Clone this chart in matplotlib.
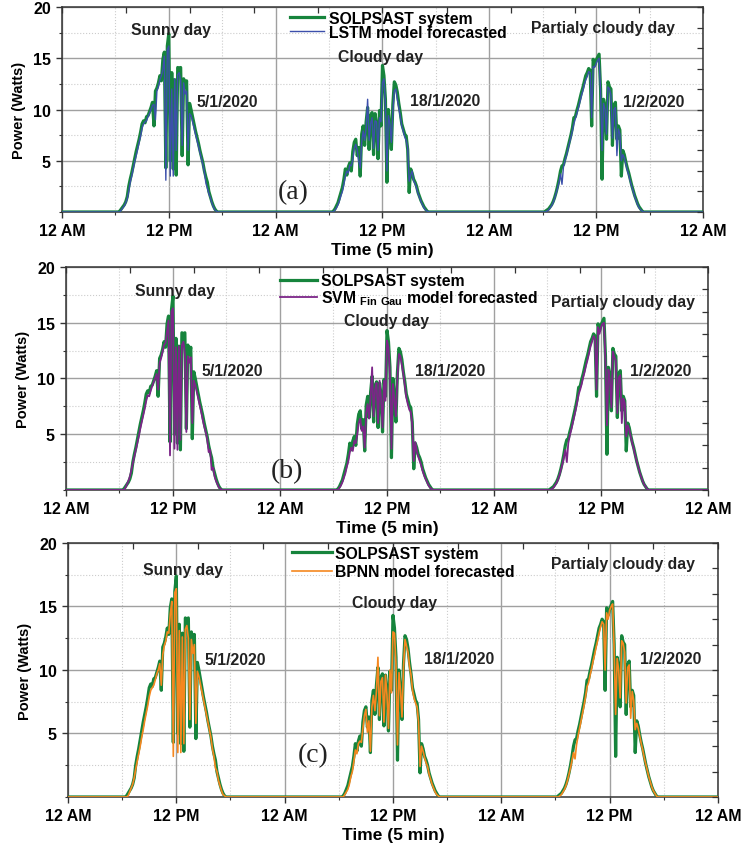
import numpy as np
import matplotlib
matplotlib.use("Agg")
import matplotlib.pyplot as plt
from matplotlib.ticker import MultipleLocator, FixedLocator

# 10-min samples from 6:00 AM onwards for each day, zero otherwise (Watts)
solpsast_sunny = [0, 0, 0, 0.1, 0.3, 0.5, 0.7, 1.0, 1.5, 2.5, 3.2, 3.8,
                  4.5, 5.2, 5.9, 6.5, 7.1, 7.8, 8.6, 8.9, 8.7, 9.3, 9.4, 9.8,
                  10.2, 10.7, 8.4, 11.8, 12.1, 12.6, 13.3, 12.8, 14.9, 15.6, 4.3, 16.2,
                  17.4, 5.0, 13.6, 4.2, 12.9, 3.6, 14.1, 14.0, 14.1, 5.5, 13.0, 12.2,
                  12.8, 4.6, 10.6, 10.0, 9.3, 8.6, 7.9, 7.3, 6.7, 6.0, 5.4, 4.8,
                  4.0, 3.4, 2.9, 2.0, 1.5, 1.0, 0.6, 0.3, 0.1, 0]
solpsast_cloudy = [0, 0, 0, 0.1, 0.3, 0.6, 0.9, 1.4, 1.9, 2.4, 3.2, 4.2,
                   3.6, 4.4, 4.8, 4.0, 5.9, 6.8, 7.1, 5.5, 6.3, 3.5, 7.6, 8.4,
                   6.5, 8.8, 10.2, 6.1, 9.4, 9.7, 5.6, 9.6, 8.5, 5.2, 9.9, 8.4,
                   14.3, 13.3, 11.0, 2.9, 10.0, 8.2, 6.1, 10.5, 12.7, 12.4, 11.7, 10.6,
                   9.7, 8.6, 8.1, 7.6, 7.4, 6.1, 1.9, 4.2, 3.8, 3.2, 2.9, 2.5,
                   1.9, 1.5, 1.1, 0.8, 0.5, 0.3, 0.1, 0]
solpsast_partly = [0, 0, 0.1, 0.2, 0.3, 0.5, 0.7, 1.0, 1.4, 1.9, 2.5, 3.2,
                   4.0, 4.5, 4.6, 5.2, 5.7, 6.3, 6.9, 7.5, 8.2, 9.2, 9.3, 9.9,
                   10.4, 11.0, 11.6, 12.1, 12.7, 13.3, 13.6, 14.0, 13.8, 8.4, 14.9, 14.3,
                   14.8, 15.1, 15.4, 12.0, 3.2, 11.0, 10.2, 7.1, 12.7, 12.2, 12.0, 6.5,
                   10.4, 10.7, 7.1, 8.4, 8.0, 3.5, 6.0, 5.6, 4.9, 4.3, 3.8, 3.2,
                   2.6, 2.1, 1.6, 1.2, 0.8, 0.5, 0.3, 0.1, 0]

lstm_sunny = [0, 0, 0, 0, 0.2, 0.4, 0.6, 0.9, 1.3, 2.0, 2.9, 3.5,
              4.2, 4.9, 5.5, 6.1, 6.8, 7.4, 8.2, 8.6, 8.8, 8.9, 9.3, 9.6,
              10.0, 10.4, 10.5, 9.0, 11.8, 12.2, 12.9, 13.3, 13.9, 15.2, 3.1, 15.8,
              16.2, 3.5, 12.0, 3.5, 13.0, 6.0, 13.4, 13.6, 12.8, 6.5, 12.6, 11.5,
              11.8, 6.0, 9.6, 9.4, 8.8, 8.2, 7.6, 7.0, 6.4, 5.8, 5.2, 4.6,
              3.9, 2.8, 2.3, 1.8, 1.4, 0.9, 0.5, 0.2, 0.1, 0]
lstm_cloudy = [0, 0, 0, 0, 0.2, 0.4, 0.7, 1.1, 1.6, 2.0, 2.7, 3.5,
               4.0, 3.8, 4.6, 4.5, 5.1, 6.2, 6.6, 6.0, 5.0, 4.3, 6.8, 7.9,
               7.0, 8.2, 11.0, 7.0, 8.6, 9.2, 6.2, 8.9, 8.8, 6.0, 9.2, 8.8,
               12.6, 13.0, 10.6, 4.0, 9.4, 8.6, 6.8, 9.8, 11.8, 12.0, 11.0, 10.2,
               9.3, 8.4, 7.9, 7.3, 7.0, 6.3, 3.0, 3.6, 4.0, 3.0, 2.8, 2.3,
               1.8, 1.4, 1.0, 0.7, 0.4, 0.2, 0.1, 0]
lstm_partly = [0, 0, 0, 0.1, 0.2, 0.4, 0.6, 0.9, 1.3, 1.8, 2.3, 2.9,
               3.7, 2.7, 4.4, 5.0, 5.5, 6.1, 6.7, 7.3, 7.9, 8.6, 9.1, 9.6,
               10.1, 10.7, 11.3, 11.8, 12.4, 12.9, 13.2, 13.7, 13.6, 9.2, 14.2, 14.1,
               14.5, 14.8, 15.0, 11.8, 6.0, 10.6, 10.0, 7.6, 12.2, 12.0, 11.4, 7.2,
               10.0, 10.2, 5.5, 8.1, 7.6, 5.0, 5.6, 5.3, 4.7, 4.1, 3.6, 3.0,
               2.5, 2.0, 1.5, 1.1, 0.7, 0.4, 0.2, 0.1, 0]

svm_sunny = [0, 0, 0, 0, 0.2, 0.5, 0.8, 1.2, 1.8, 2.4, 3.0, 3.6,
             4.2, 4.8, 5.5, 6.1, 6.7, 7.3, 8.0, 8.5, 8.4, 8.9, 9.3, 9.7,
             10.0, 10.4, 9.0, 11.4, 11.8, 12.4, 13.0, 13.2, 14.2, 15.2, 3.1, 16.0,
             16.3, 3.7, 12.8, 3.6, 12.9, 4.5, 13.0, 13.3, 12.2, 5.2, 12.0, 11.4,
             11.9, 6.0, 9.8, 9.4, 8.8, 8.2, 7.6, 7.0, 6.3, 5.7, 5.2, 4.6,
             3.4, 3.6, 1.8, 2.0, 1.2, 0.8, 0.5, 0.2, 0.1, 0]
svm_cloudy = [0, 0, 0, 0, 0.2, 0.4, 0.7, 1.1, 1.5, 2.1, 2.6, 3.4,
              3.8, 3.5, 4.4, 4.2, 5.0, 6.0, 6.4, 5.3, 5.7, 3.8, 6.9, 7.7,
              6.4, 8.4, 11.0, 6.6, 9.0, 9.6, 6.0, 9.8, 8.2, 5.6, 9.8, 8.0,
              13.4, 12.8, 10.2, 3.7, 9.5, 8.0, 6.6, 10.0, 12.2, 12.0, 11.2, 10.4,
              9.4, 8.3, 7.7, 7.2, 7.0, 5.8, 2.6, 4.3, 3.5, 3.0, 2.6, 2.2,
              1.7, 1.3, 1.0, 0.7, 0.4, 0.2, 0.1, 0]
svm_partly = [0, 0, 0, 0.1, 0.2, 0.4, 0.6, 0.9, 1.3, 1.8, 2.3, 2.9,
              3.6, 2.5, 4.2, 4.9, 5.4, 6.0, 6.6, 7.2, 7.9, 8.6, 9.0, 9.5,
              10.1, 10.6, 11.2, 11.7, 12.3, 12.9, 13.3, 13.8, 13.5, 9.0, 14.6, 14.0,
              14.6, 14.9, 15.0, 11.5, 5.8, 10.8, 9.8, 7.4, 12.4, 11.9, 11.6, 6.9,
              10.1, 10.3, 6.0, 8.2, 7.8, 4.8, 5.8, 5.4, 4.8, 4.2, 3.7, 3.1,
              2.6, 2.1, 1.6, 1.2, 0.8, 0.5, 0.3, 0.1, 0]

bpnn_sunny = [0, 0, 0, 0, 0.1, 0.4, 0.7, 1.0, 1.5, 2.2, 2.8, 3.4,
              4.0, 4.7, 5.3, 6.0, 6.6, 7.2, 7.9, 8.4, 8.6, 8.8, 9.2, 9.7,
              10.0, 10.5, 8.8, 11.2, 11.9, 12.3, 13.0, 12.9, 14.4, 15.4, 3.2, 16.1,
              16.4, 3.5, 13.1, 3.5, 12.6, 4.2, 13.2, 13.5, 12.5, 6.1, 12.4, 11.3,
              12.0, 5.8, 9.9, 9.5, 8.9, 8.3, 7.7, 7.1, 6.5, 5.9, 5.3, 4.7,
              3.8, 3.2, 2.3, 2.0, 1.3, 0.9, 0.5, 0.2, 0.1, 0]
bpnn_cloudy = [0, 0, 0, 0, 0.2, 0.4, 0.6, 1.0, 1.6, 2.0, 2.8, 3.7,
               3.4, 4.2, 4.4, 4.3, 5.4, 6.4, 6.9, 5.1, 6.0, 3.6, 7.1, 8.0,
               6.8, 8.3, 11.0, 6.4, 9.1, 9.4, 5.9, 9.6, 8.0, 5.4, 10.0, 8.2,
               13.0, 12.9, 10.4, 4.1, 9.8, 8.4, 6.3, 10.2, 12.4, 11.9, 11.4, 10.3,
               9.6, 8.4, 7.8, 7.4, 7.1, 5.9, 2.4, 4.0, 3.6, 3.1, 2.7, 2.4,
               1.8, 1.4, 1.0, 0.7, 0.4, 0.2, 0.1, 0]
bpnn_partly = [0, 0, 0, 0.1, 0.2, 0.4, 0.6, 0.9, 1.3, 1.8, 2.3, 2.9,
               3.5, 3.0, 4.1, 4.8, 5.4, 6.0, 6.6, 7.2, 7.9, 8.7, 9.0, 9.6,
               10.1, 10.7, 11.2, 11.8, 12.3, 12.9, 13.4, 13.8, 13.6, 10.0, 14.5, 14.0,
               14.7, 15.0, 15.2, 11.6, 6.5, 10.9, 10.0, 7.8, 12.3, 12.1, 11.4, 7.4,
               10.2, 10.4, 6.2, 8.3, 7.6, 5.3, 5.8, 5.4, 4.8, 4.2, 3.7, 3.1,
               2.6, 2.1, 1.6, 1.2, 0.8, 0.5, 0.3, 0.1, 0]

x_tick_labels = ["12 AM", "12 PM", "12 AM", "12 PM", "12 AM", "12 PM", "12 AM"]
y_ticks = [5, 10, 15, 20]
day_names = ["Sunny day", "Cloudy day", "Partialy cloudy day"]
dates = ["5/1/2020", "18/1/2020", "1/2/2020"]

plt.rcParams['font.family'] = ['Liberation Sans', 'DejaVu Sans']
plt.rcParams['font.weight'] = 'bold'
plt.rcParams['axes.labelweight'] = 'bold'
plt.rcParams['mathtext.fontset'] = 'custom'
plt.rcParams['mathtext.rm'] = 'Liberation Sans:bold'
plt.rcParams['mathtext.default'] = 'rm'

SAMPLES_PER_HOUR = 6
t = np.arange(0, 72 * SAMPLES_PER_HOUR + 1) / SAMPLES_PER_HOUR


def build_series(days):
    """Place each day's daylight samples (starting 6 AM) on the 3-day time grid."""
    p = np.zeros_like(t)
    for d, vals in enumerate(days):
        i0 = (24 * d + 6) * SAMPLES_PER_HOUR
        p[i0:i0 + len(vals)] = vals
    return p


measured = build_series([solpsast_sunny, solpsast_cloudy, solpsast_partly])

GREEN = '#16843c'
TEXT_SIZE = 11.3
panels = [
    dict(rect=[0.0834, 0.7506, 0.8627, 0.2400], letter="(a)",
         label="LSTM model forecasted", color='#3c4fab', lw=1.0,
         model=build_series([lstm_sunny, lstm_cloudy, lstm_partly]),
         leg=(0.390, 0.986), leg_len=2.2, leg_pad=0.3, leg_sp=-0.07,
         text_pos=[(12.2, 17.85), (35.8, 15.2), (60.8, 18.0)],
         date_pos=[(18.6, 10.8), (43.0, 10.9), (66.5, 10.8)],
         letter_pos=(26.0, 1.95)),
    dict(rect=[0.0888, 0.4251, 0.8641, 0.2611], letter="(b)",
         label="SVM $_{Fin\\ Gau}$ model forecasted", color='#7c2588', lw=1.3,
         model=build_series([svm_sunny, svm_cloudy, svm_partly]),
         leg=(0.377, 0.679), leg_len=2.35, leg_pad=0.25, leg_sp=0.03,
         text_pos=[(12.2, 17.9), (35.9, 15.2), (62.5, 16.9)],
         date_pos=[(18.7, 10.76), (43.1, 10.76), (66.7, 10.76)],
         letter_pos=(24.8, 1.7)),
    dict(rect=[0.0915, 0.0656, 0.8748, 0.2974], letter="(c)",
         label="BPNN model forecasted", color='#f5871f', lw=1.2,
         model=build_series([bpnn_sunny, bpnn_cloudy, bpnn_partly]),
         leg=(0.393, 0.360), leg_len=2.55, leg_pad=0.2, leg_sp=0.23,
         text_pos=[(12.7, 17.95), (36.2, 15.3), (61.5, 18.4)],
         date_pos=[(18.5, 10.8), (43.3, 10.9), (66.8, 10.9)],
         letter_pos=(27.1, 3.3)),
]

fig = plt.figure(figsize=(7.43, 8.54), dpi=100)

for p in panels:
    ax = fig.add_axes(p['rect'])
    l1, = ax.plot(t, measured, color=GREEN, lw=2.3, label="SOLPSAST system", zorder=3)
    l2, = ax.plot(t, p['model'], color=p['color'], lw=p['lw'], label=p['label'], zorder=4)

    ax.set_xlim(0, 72)
    ax.set_ylim(0, 20)
    ax.xaxis.set_major_locator(FixedLocator(np.arange(0, 73, 12)))
    ax.set_xticklabels(x_tick_labels, fontweight='bold', fontsize=11.5)
    ax.xaxis.set_minor_locator(FixedLocator(np.arange(6, 72, 12)))
    ax.set_yticks(y_ticks, labels=[str(v) for v in y_ticks], fontweight='bold', fontsize=11.5)
    ax.yaxis.set_minor_locator(MultipleLocator(2.5))
    ax.tick_params(which='major', direction='out', length=4, width=1,
                   color='#333333', pad=4)
    ax.tick_params(which='minor', direction='out', length=2.5, width=0.8, color='#333333')
    ax.grid(which='major', color='#a0a0a0', lw=1.0, ls='-', zorder=0)
    ax.grid(which='minor', color='#cccccc', lw=0.8, ls=':', zorder=0)
    for s in ax.spines.values():
        s.set_color('#333333')
        s.set_linewidth(1.1)

    # inner ticks on the right and top frames
    axr = ax.twinx()
    axr.set_ylim(0, 20)
    axr.yaxis.set_major_locator(MultipleLocator(2))
    axr.tick_params(direction='in', length=4, width=0.9, labelright=False, color='#333333')
    axt = ax.twiny()
    axt.set_xlim(0, 72)
    axt.xaxis.set_major_locator(FixedLocator(np.linspace(0, 72, 11)))
    axt.tick_params(direction='in', length=4, width=0.9, labeltop=False, color='#333333')
    for a in (axr, axt):
        for s in a.spines.values():
            s.set_visible(False)

    ax.set_ylabel("Power (Watts)", fontsize=10.5, fontweight='bold', labelpad=5)
    ax.set_xlabel("Time (5 min)", fontsize=12.5, fontweight='bold', labelpad=3)

    for name, (x, y) in zip(day_names, p['text_pos']):
        ax.text(x, y, name, fontsize=TEXT_SIZE, ha='center', va='center', color='#222222')
    for dt, (x, y) in zip(dates, p['date_pos']):
        ax.text(x, y, dt, fontsize=TEXT_SIZE, ha='center', va='center', color='#222222')
    ax.text(*p['letter_pos'], p['letter'], fontsize=20, ha='center', va='center',
            family='Liberation Serif', fontweight='normal', color='#222222')

    ax.legend(handles=[l1, l2], loc='upper left', bbox_to_anchor=p['leg'],
              bbox_transform=fig.transFigure, frameon=False, fontsize=TEXT_SIZE,
              borderpad=0, borderaxespad=0, handlelength=p['leg_len'],
              handletextpad=p['leg_pad'], labelspacing=p['leg_sp'])

fig.savefig("out.png", dpi=100)
